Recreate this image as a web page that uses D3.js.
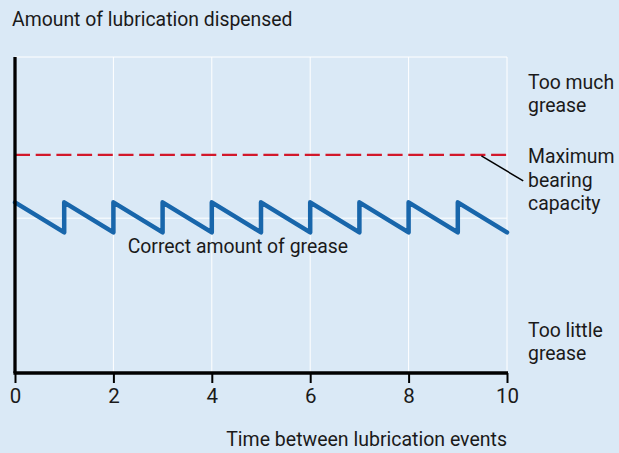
<!DOCTYPE html>
<html>
<head>
<meta charset="utf-8">
<script src="https://cdn.jsdelivr.net/npm/d3@7"></script>
<style>
  body { margin: 0; background: #dae9f6; }
  svg { display: block; font-family: "Roboto", sans-serif; }
  text { fill: #1a1a1a; }
</style>
</head>
<body>
<div class="chart"></div>
<script>
// data
const xTicks = [0, 2, 4, 6, 8, 10];
const xGrid = [2, 4, 6, 8, 10];
const yGrid = [49, 100];
const maxCapacity = 69;
// sawtooth: time, amount
const greaseT = [0, 1, 1, 2, 2, 3, 3, 4, 4, 5, 5, 6, 6, 7, 7, 8, 8, 9, 9, 10];
const greaseV = [54, 44.5, 54, 44.5, 54, 44.5, 54, 44.5, 54, 44.5, 54, 44.5, 54, 44.5, 54, 44.5, 54, 44.5, 54, 44.5];
const rightLabels = [
  { lines: ["Too much", "grease"], v: 90 },
  { lines: ["Maximum", "bearing", "capacity"], v: 66.3 },
  { lines: ["Too little", "grease"], v: 11.4 }
];

const W = 619, H = 453;
const margin = { top: 57, right: 112, bottom: 80, left: 15 };
const width = W - margin.left - margin.right,
  height = H - margin.top - margin.bottom;

const svg = d3.select(".chart").append("svg")
  .attr("width", W).attr("height", H);

svg.append("rect").attr("width", W).attr("height", H).attr("fill", "#dae9f6");

const g = svg.append("g")
  .attr("transform", "translate(" + margin.left + "," + margin.top + ")");

const x = d3.scaleLinear().domain([0, 10]).range([0, width]);
const y = d3.scaleLinear().domain([0, 100]).range([height, 0]);

// grid
g.selectAll(".vgrid").data(xGrid).enter().append("line")
  .attr("x1", d => x(d)).attr("x2", d => x(d))
  .attr("y1", 0).attr("y2", height)
  .attr("stroke", "#fff").attr("stroke-width", 1);

g.selectAll(".hgrid").data(yGrid).enter().append("line")
  .attr("x1", 0).attr("x2", width)
  .attr("y1", d => y(d)).attr("y2", d => y(d))
  .attr("stroke", "#fff").attr("stroke-width", 1);

// max bearing capacity
g.append("line")
  .attr("x1", x(0)).attr("x2", x(10))
  .attr("y1", y(maxCapacity)).attr("y2", y(maxCapacity))
  .attr("stroke", "#d2182b").attr("stroke-width", 2.2)
  .attr("stroke-dasharray", "15,5.7");

// sawtooth
const line = d3.line().x(d => x(d[0])).y(d => y(d[1]));
g.append("path")
  .datum(d3.zip(greaseT, greaseV))
  .attr("d", line)
  .attr("fill", "none")
  .attr("stroke", "#1866ab")
  .attr("stroke-width", 4.5)
  .attr("stroke-linejoin", "round")
  .attr("stroke-linecap", "round");

// axes
g.append("line")
  .attr("x1", 0).attr("x2", 0).attr("y1", 0).attr("y2", height)
  .attr("stroke", "#000").attr("stroke-width", 3.3);

const xAxis = g.append("g")
  .attr("transform", "translate(0," + height + ")")
  .call(d3.axisBottom(x).tickValues(xTicks).tickSize(10).tickPadding(5));
xAxis.select(".domain").remove();
xAxis.insert("line", ":first-child")
  .attr("x1", -1.6).attr("x2", width + 1).attr("y1", 0).attr("y2", 0)
  .attr("stroke", "#000").attr("stroke-width", 3.3);
xAxis.selectAll(".tick line").attr("stroke", "#000").attr("stroke-width", 2);
xAxis.selectAll(".tick text")
  .attr("font-size", 20.5).attr("font-family", "Roboto").attr("fill", "#1a1a1a");

// texts
svg.append("text")
  .attr("x", 12).attr("y", 26)
  .attr("font-size", 19.4)
  .text("Amount of lubrication dispensed");

svg.append("text")
  .attr("x", margin.left + width).attr("y", 446)
  .attr("text-anchor", "end")
  .attr("font-size", 19.5)
  .text("Time between lubrication events");

g.append("text")
  .attr("x", x(2.29)).attr("y", y(38))
  .attr("font-size", 19.4)
  .text("Correct amount of grease");

const labelG = svg.append("g");
rightLabels.forEach(l => {
  const t = labelG.append("text")
    .attr("x", 528)
    .attr("y", margin.top + y(l.v))
    .attr("font-size", 19.4);
  l.lines.forEach((s, i) => {
    t.append("tspan").attr("x", 528).attr("dy", i ? 23.2 : 0).text(s);
  });
});

// leader line for max capacity
g.append("line")
  .attr("x1", x(9.48)).attr("y1", y(maxCapacity) + 1)
  .attr("x2", x(10.33)).attr("y2", y(60.8))
  .attr("stroke", "#000").attr("stroke-width", 1.5);
</script>
</body>
</html>
